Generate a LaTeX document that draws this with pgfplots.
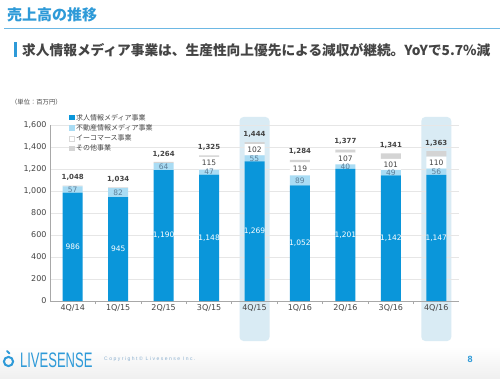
\documentclass[border=0pt]{standalone}
\usepackage{pgfplots}
\pgfplotsset{compat=1.18}
\usepackage{pgfplotstable}
\usepackage{fontspec}
\setmainfont{DejaVu Sans}
\newfontfamily\cjk{Noto Sans CJK JP}
\newfontfamily\logofont{Liberation Sans}
\newfontfamily\copyfont[LetterSpace=30]{Liberation Sans}
\definecolor{mainblue}{HTML}{0A96DA}
\definecolor{lightblue}{HTML}{A9DCF4}
\definecolor{othergray}{HTML}{D4D4D4}
\definecolor{hlblue}{HTML}{D9EBF4}
\definecolor{titleblue}{HTML}{2E9AD8}
\definecolor{txtgray}{HTML}{444444}
\definecolor{segtwo}{HTML}{5C7E98}
\definecolor{gridgray}{HTML}{E6E6E6}
\definecolor{axgray}{HTML}{A8A8A8}
\definecolor{copygray}{HTML}{8AAFCF}
\pgfplotstableread{
x a b c d tot
0 986 57 0 5 1048
1 945 82 0 7 1034
2 1190 64 0 10 1264
3 1148 47 115 15 1325
4 1269 55 102 18 1444
5 1052 89 119 24 1284
6 1201 40 107 29 1377
7 1142 49 101 49 1341
8 1147 56 110 50 1363
}\sales
\pgfplotsset{
  /pgf/number format/assume math mode=true,
  /pgf/number format/1000 sep={,},
  base/.style={
    at={(50pt,77pt)}, anchor=south west,
    width=409pt, height=176pt, scale only axis,
    xmin=-0.5, xmax=8.5, ymin=0, ymax=1600,
    clip=false,
  },
}
\begin{document}
\begin{tikzpicture}
\useasboundingbox (0,0) rectangle (500pt,378pt);
\fill[white] (0,0) rectangle (500pt,378pt);
\shade[top color=white, bottom color=black!6] (0,0) rectangle (500pt,32pt);
% title
\node[anchor=west, inner sep=0, text=titleblue, font=\cjk\bfseries\fontsize{15}{15}\selectfont] at (7pt,363pt) {売上高の推移};
\draw[titleblue!70, line width=0.9pt] (4pt,350pt) -- (500pt,350pt);
\fill[titleblue] (13.5pt,321pt) rectangle (16.5pt,336pt);
\node[anchor=west, inner sep=0, text=txtgray, font=\cjk\bfseries\fontsize{13.7}{13.7}\selectfont] at (22pt,328pt) {求人情報メディア事業は、生産性向上優先による減収が継続。YoYで5.7\%減};
\node[anchor=west, inner sep=0, text=txtgray, font=\cjk\fontsize{6.3}{6.3}\selectfont] at (11pt,276pt) {（単位：百万円）};
% highlight boxes
\fill[hlblue, rounded corners=4pt] (239.5pt,37pt) rectangle (269.5pt,261pt);
\fill[hlblue, rounded corners=4pt] (421.3pt,37pt) rectangle (451.3pt,261pt);
% main axis
\begin{axis}[base,
  ybar stacked, bar width=20pt,
  axis x line*=bottom, axis y line*=left,
  axis line style={axgray, line width=0.6pt, -},
  xtick={0,...,8},
  xticklabels={4Q/14,1Q/15,2Q/15,3Q/15,4Q/15,1Q/16,2Q/16,3Q/16,4Q/16},
  minor xtick={0.5,1.5,...,7.5},
  tick align=outside, major tick length=0pt, minor tick length=3pt,
  tick style={axgray, line width=0.6pt},
  ytick={0,200,...,1600}, scaled y ticks=false,
  ymajorgrids, grid style={gridgray, line width=0.6pt},
  ticklabel style={font=\fontsize{8}{8}\selectfont, text=txtgray},
  legend style={at={(0.046,1.07)}, anchor=north west, draw=none, fill=none, inner sep=0pt,
    font=\cjk\fontsize{7}{7}\selectfont, text=txtgray, row sep=0.5pt,
    nodes={inner sep=1.2pt}},
  legend cell align=left,
]
\addplot[fill=mainblue, draw=none, legend image code/.code={\fill[mainblue] (0pt,-2.6pt) rectangle (5.4pt,2.8pt);}] table[x=x,y=a]{\sales};
\addlegendentry{求人情報メディア事業}
\addplot[fill=lightblue, draw=none, legend image code/.code={\fill[lightblue] (0pt,-2.6pt) rectangle (5.4pt,2.8pt);}] table[x=x,y=b]{\sales};
\addlegendentry{不動産情報メディア事業}
\addplot[fill=white, draw=none, legend image code/.code={\draw[fill=white,draw=gray!30,line width=0.4pt] (0pt,-2.6pt) rectangle (5.4pt,2.8pt);}] table[x=x,y=c]{\sales};
\addlegendentry{イーコマース事業}
\addplot[fill=othergray, draw=none, legend image code/.code={\fill[othergray] (0pt,-2.6pt) rectangle (5.4pt,2.8pt);}] table[x=x,y=d]{\sales};
\addlegendentry{その他事業}
\end{axis}
% labels axis
\begin{axis}[base, hide axis, nodes near coords align={center}]
\addplot[draw=none, mark=none, nodes near coords, point meta=\thisrow{a},
  every node near coord/.append style={text=white, font=\fontsize{7.5}{7.5}\selectfont, inner sep=0pt}]
  table[x=x, y expr=\thisrow{a}/2]{\sales};
\addplot[draw=none, mark=none, nodes near coords, point meta=\thisrow{b},
  every node near coord/.append style={text=segtwo, font=\fontsize{7.5}{7.5}\selectfont, inner sep=0pt}]
  table[x=x, y expr=\thisrow{a}+\thisrow{b}/2]{\sales};
\addplot[draw=none, mark=none, nodes near coords, point meta=\thisrow{c}, skip coords between index={0}{3},
  every node near coord/.append style={text=txtgray, font=\fontsize{7.5}{7.5}\selectfont, inner sep=0pt}]
  table[x=x, y expr=\thisrow{a}+\thisrow{b}+\thisrow{c}/2]{\sales};
\addplot[draw=none, mark=none, nodes near coords, point meta=\thisrow{tot},
  every node near coord/.append style={text=txtgray, font=\bfseries\fontsize{7}{7}\selectfont, inner sep=0pt, yshift=8pt}]
  table[x=x, y=tot]{\sales};
\end{axis}
% footer
\draw[titleblue, line width=2pt] (8.5pt,16.5pt) circle (4.6pt);
\draw[titleblue, line width=1.8pt, line cap=round] (7pt,27pt) -- (9.5pt,24.5pt);
\node[anchor=base west, inner sep=0, text=titleblue, font=\logofont\fontsize{21}{21}\selectfont, xscale=0.62] at (20pt,11pt) {LIVESENSE};
\node[anchor=west, inner sep=0, text=copygray, font=\copyfont\fontsize{5}{5}\selectfont] at (104pt,19pt) {Copyright© Livesense Inc.};
\node[inner sep=0, text=titleblue, font=\logofont\bfseries\fontsize{9}{9}\selectfont] at (470pt,19pt) {8};
\end{tikzpicture}
\end{document}
